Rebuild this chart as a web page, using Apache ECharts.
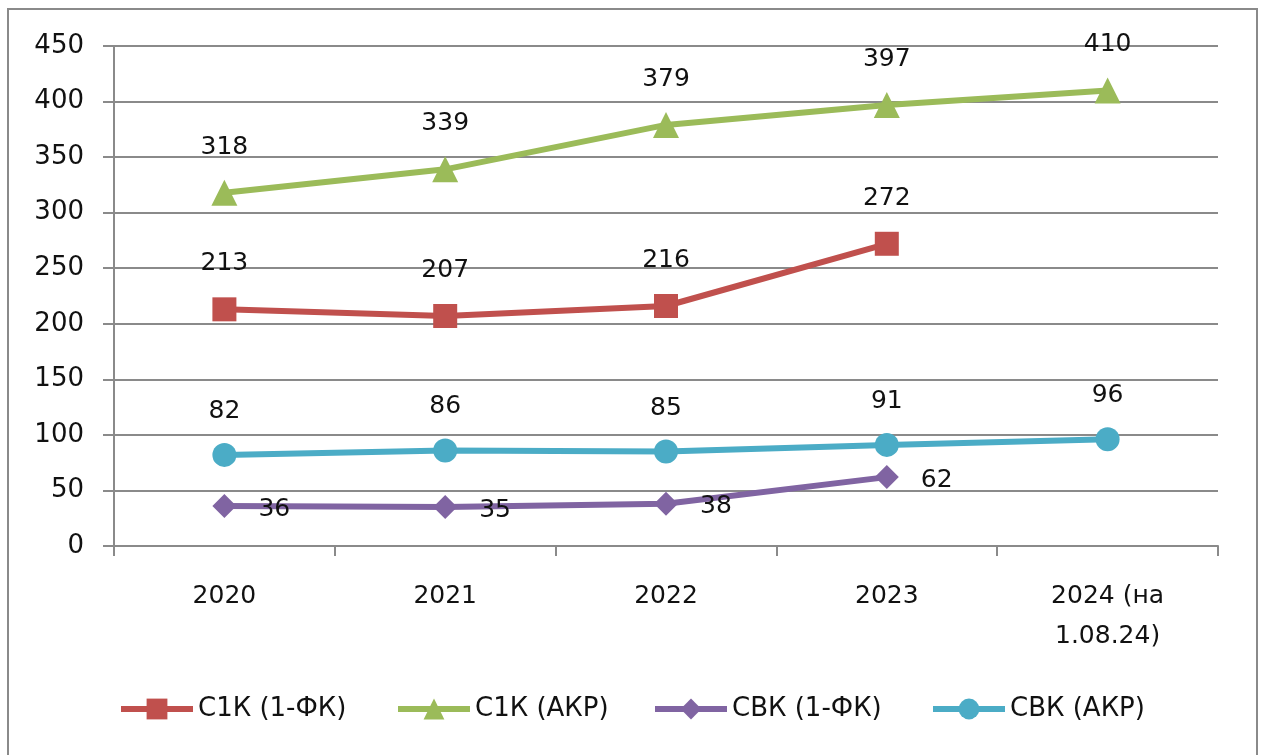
<!DOCTYPE html>
<html><head><meta charset="utf-8">
<script src="https://cdn.jsdelivr.net/npm/echarts@6/dist/echarts.min.js"></script>
<style>html,body{margin:0;padding:0;background:#fff}#c{width:1262px;height:755px}</style>
</head><body><div id="c"></div>
<script>
const categories = ['2020', '2021', '2022', '2023', '2024 (на\n1.08.24)'];
const c1kFK  = [213, 207, 216, 272, null];
const c1kAKR = [318, 339, 379, 397, 410];
const cvkFK  = [36, 35, 38, 62, null];
const cvkAKR = [82, 86, 85, 91, 96];
const seriesNames = ['С1К (1-ФК)', 'С1К (АКР)', 'СВК (1-ФК)', 'СВК (АКР)'];
const yTicks = {min: 0, max: 450, interval: 50};

const font = 'DejaVu Sans';
const txt = '#111';
const chart = echarts.init(document.getElementById('c'), null, {renderer: 'canvas'});
function mk(name, data, color, symbol, size, labelPos, labelDist, labelOffset) {
  return {
    name, type: 'line', data, color,
    symbol, symbolSize: size, showAllSymbol: true,
    lineStyle: {width: 6, color},
    itemStyle: {color},
    label: {show: true, position: labelPos, distance: labelDist, offset: labelOffset || [0,0],
      fontFamily: font, fontSize: 25, color: txt},
    z: 3
  };
}
const legendLefts = [118, 395, 652, 930];
const legends = seriesNames.map((n, i) => ({
  left: legendLefts[i], top: 696, itemWidth: 72, itemHeight: 26, padding: 0,
  lineStyle: {width: 6},
  textStyle: {fontFamily: font, fontSize: 26, color: txt},
  data: [n]
}));
chart.setOption({
  animation: false,
  graphic: [{type: 'rect', shape: {x: 8, y: 9, width: 1249, height: 760},
    style: {fill: 'none', stroke: '#8a8a8a', lineWidth: 2}, z: -1}],
  grid: {left: 114, right: 44, top: 46, bottom: 209},
  legend: legends,
  xAxis: {
    type: 'category', data: categories, boundaryGap: true,
    axisLine: {lineStyle: {color: '#8a8a8a', width: 2}},
    axisTick: {show: true, length: 10, alignWithLabel: false, lineStyle: {color: '#8a8a8a', width: 2}},
    axisLabel: {fontFamily: font, fontSize: 25, color: txt, margin: 30, lineHeight: 40}
  },
  yAxis: {
    type: 'value', min: yTicks.min, max: yTicks.max, interval: yTicks.interval,
    axisLine: {show: true, lineStyle: {color: '#8a8a8a', width: 2}},
    axisTick: {show: true, length: 11, lineStyle: {color: '#8a8a8a', width: 2}},
    splitLine: {lineStyle: {color: '#8a8a8a', width: 2}},
    axisLabel: {fontFamily: font, fontSize: 26, color: txt, margin: 30}
  },
  series: [
    mk(seriesNames[0], c1kFK, '#C0504D', 'rect', 24, 'top', 21),
    mk(seriesNames[1], c1kAKR, '#9BBB59', 'triangle', 26, 'top', 20),
    mk(seriesNames[2], cvkFK, '#8064A2', 'diamond', 24, 'right', 22, [0, 3]),
    mk(seriesNames[3], cvkAKR, '#4BACC6', 'circle', 24, 'top', 19)
  ]
});
</script></body></html>
